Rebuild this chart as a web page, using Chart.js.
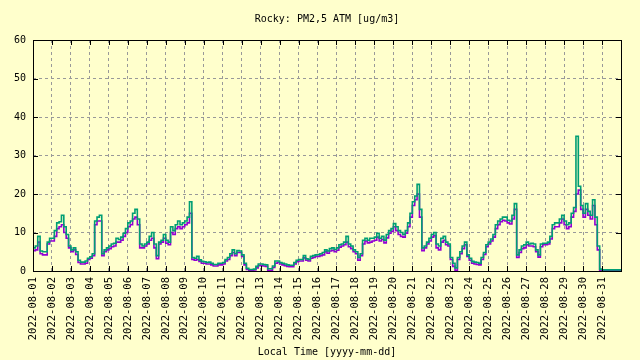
<!DOCTYPE html>
<html>
<head>
<meta charset="utf-8">
<title>Rocky: PM2,5 ATM</title>
<script src="https://cdn.jsdelivr.net/npm/chart.js@4/dist/chart.umd.min.js"></script>
<style>
  html, body { margin: 0; padding: 0; background: #ffffcc; }
  #wrap { width: 640px; height: 360px; }
</style>
</head>
<body>
<div id="wrap"><canvas id="grafico" width="640" height="360"></canvas></div>
<script>
// Dados: uma amostra a cada 3 horas, a partir de 2022-08-01 00:00
const titulo = "Rocky: PM2,5 ATM [ug/m3]";
const tituloEixoX = "Local Time [yyyy-mm-dd]";
const horasPorAmostra = 3;

const dias = [
  "2022-08-01", "2022-08-02", "2022-08-03", "2022-08-04", "2022-08-05", "2022-08-06",
  "2022-08-07", "2022-08-08", "2022-08-09", "2022-08-10", "2022-08-11", "2022-08-12",
  "2022-08-13", "2022-08-14", "2022-08-15", "2022-08-16", "2022-08-17", "2022-08-18",
  "2022-08-19", "2022-08-20", "2022-08-21", "2022-08-22", "2022-08-23", "2022-08-24",
  "2022-08-25", "2022-08-26", "2022-08-27", "2022-08-28", "2022-08-29", "2022-08-30",
  "2022-08-31"
];

const yTicks = [0, 10, 20, 30, 40, 50, 60];

// canal B (verde)
const canalB = [
  6, 6, 6.5, 9, 5.2, 5, 5, 7.5,
  8.5, 8.5, 10.5, 12.5, 12.8, 14.5, 11.5, 9.5,
  6.5, 5.5, 6, 5, 2.8, 2.3, 2.3, 2.6,
  3.3, 3.7, 4.5, 13, 14, 14.5, 4.5, 5.5,
  6, 6.5, 7, 7.2, 8.5, 8.2, 8.8, 9.8,
  11, 12.5, 13, 15, 16, 13.5, 7, 6.5,
  7, 7.5, 9, 10, 7, 4, 7.5, 8,
  9.5, 8, 7.5, 11.5, 10.5, 12, 13, 12,
  12.5, 13, 14, 18, 3.5, 3.3, 3.8, 2.9,
  2.5, 2.4, 2.2, 2.3, 2, 1.7, 1.7, 2,
  2, 2.2, 3, 3.5, 4.5, 5.5, 4.5, 5.3,
  5.2, 4.2, 2, 0.7, 0.4, 0.4, 0.5, 1.2,
  1.8, 1.8, 1.7, 1.6, 0.6, 0.6, 1.3, 2.6,
  2.6, 2.2, 2, 1.8, 1.6, 1.5, 1.5, 2.2,
  2.8, 3, 3, 4, 3.2, 3, 3.8, 4,
  4.2, 4.3, 4.5, 4.8, 5.5, 5.2, 5.8, 6,
  5.6, 6, 6.8, 7, 7.5, 9, 7, 6.5,
  5.5, 5, 3.5, 4.5, 8, 8.5, 8, 8.5,
  8.5, 8.8, 9.8, 8.5, 9, 8, 9.5, 10.5,
  11, 12.3, 11.5, 10.5, 10, 9.5, 10.5, 12.5,
  15, 18, 19.5, 22.5, 16, 6, 6.5, 7.5,
  8.5, 9.5, 10, 7, 6.5, 8.5, 9, 7.5,
  7, 3.5, 2, 0.8, 3.5, 5, 6.5, 7.5,
  4.2, 3.3, 2.5, 2.3, 2.2, 2, 3.5, 4.8,
  6.8, 7.5, 8.3, 9.5, 12, 13, 13.5, 14,
  14, 13.2, 13, 14.5, 17.5, 4.2, 5.5, 6.5,
  6.8, 7.5, 7, 7.2, 7, 5.5, 4.2, 7,
  7.2, 7.2, 7.5, 9, 12, 12.5, 12.5, 13.5,
  14.5, 13, 12, 12.5, 15, 16.5, 35, 22,
  17, 15, 17.5, 15.5, 14.5, 18.5, 14, 6.5,
  0.5, 0.3, 0.3, 0.3, 0.3, 0.3, 0.3, 0.3,
  0.3
];

// canal A (violeta)
const canalA = [
  5.3, 5.3, 5.5, 7.5, 4.5, 4.2, 4.2, 7,
  7.8, 7.8, 9, 11, 11.5, 12, 10, 8.5,
  6, 5, 5.5, 4.3, 2.2, 1.8, 1.8, 2,
  3, 3.3, 4, 12, 13, 13, 4, 5,
  5.5, 5.8, 6.3, 6.5, 7.5, 7.5, 8, 9,
  10, 11.5, 12, 13.5, 14, 12, 6, 6,
  6.5, 7, 8, 8.5, 6, 3.2, 7, 7.5,
  8.5, 7.2, 6.8, 10, 9.5, 11, 11.5, 11,
  11.5, 12, 12.5, 15, 3, 2.8, 3, 2.5,
  2, 2, 1.8, 1.8, 1.6, 1.3, 1.3, 1.6,
  1.6, 1.8, 2.6, 3, 4, 4.8, 4, 4.8,
  4.8, 3.8, 1.6, 0.4, 0.2, 0.2, 0.3, 0.8,
  1.4, 1.4, 1.3, 1.2, 0.2, 0.2, 0.9, 2,
  2.2, 1.8, 1.6, 1.4, 1.2, 1.1, 1.1, 1.8,
  2.4, 2.6, 2.6, 3.4, 2.8, 2.6, 3.3, 3.5,
  3.8, 3.8, 4, 4.2, 5, 4.6, 5.2, 5.4,
  5, 5.4, 6.2, 6.5, 6.8, 7.5, 6.3, 5.8,
  5, 4.5, 2.8, 4, 7, 7.8, 7.3, 7.5,
  7.8, 8, 8.8, 7.8, 8.2, 7.3, 8.6, 9.8,
  10.3, 11.5, 10.5, 9.5, 9, 8.8, 9.8, 11.5,
  14, 17, 18.5, 20, 14, 5.3, 6, 7,
  7.8, 8.8, 9.2, 6, 5.5, 7.5, 8, 6.8,
  6.5, 3, 1.2, 0.2, 3, 4.5, 5.8, 6.8,
  3.8, 2.8, 2, 1.8, 1.7, 1.6, 3, 4.3,
  6.3, 7, 7.8, 8.8, 11, 12, 12.8, 13.2,
  13, 12.5, 12.2, 13.5, 16, 3.5, 4.8, 5.8,
  6, 6.8, 6.5, 6.5, 6.3, 5, 3.6, 6.3,
  6.8, 6.8, 7, 8.3, 11, 11.5, 11.5, 12.5,
  13.5, 12, 11, 11.5, 14, 15.5, 20, 21,
  16, 14, 16, 14.5, 13.5, 17, 12, 5.5,
  0.2, 0.1, 0.1, 0.1, 0.1, 0.1, 0.1, 0.1,
  0.1
];

// transforma o índice da amostra em dias desde 2022-08-01
const pontos = serie => serie.map((v, i) => ({ x: i * horasPorAmostra / 24, y: v }));

const fonte = { family: "'DejaVu Sans Mono', monospace", size: 10 };

// fundo amarelo, título e moldura com marcas para dentro (estilo gnuplot)
const molduraPlugin = {
  id: "moldura",
  beforeDraw(chart) {
    const { ctx, width, height } = chart;
    ctx.save();
    ctx.fillStyle = "#ffffcc";
    ctx.fillRect(0, 0, width, height);
    ctx.restore();
  },
  afterDraw(chart) {
    const { ctx, chartArea: a, scales } = chart;
    ctx.save();
    ctx.fillStyle = "#000";
    ctx.font = "10px 'DejaVu Sans Mono', monospace";
    ctx.textAlign = "center";
    ctx.textBaseline = "middle";
    ctx.fillText(titulo, (a.left + a.right) / 2, 19);

    ctx.strokeStyle = "#000";
    ctx.lineWidth = 1;
    ctx.beginPath();
    scales.x.ticks.forEach(t => {
      const px = Math.round(scales.x.getPixelForValue(t.value)) + 0.5;
      ctx.moveTo(px, a.bottom); ctx.lineTo(px, a.bottom - 5);
      ctx.moveTo(px, a.top); ctx.lineTo(px, a.top + 5);
    });
    scales.y.ticks.forEach(t => {
      const py = Math.round(scales.y.getPixelForValue(t.value)) + 0.5;
      ctx.moveTo(a.left, py); ctx.lineTo(a.left + 5, py);
      ctx.moveTo(a.right, py); ctx.lineTo(a.right - 5, py);
    });
    ctx.stroke();
    ctx.strokeRect(Math.round(a.left) + 0.5, Math.round(a.top) + 0.5,
      Math.round(a.right - a.left), Math.round(a.bottom - a.top));
    ctx.restore();
  }
};

const ctx = document.getElementById("grafico").getContext("2d");
new Chart(ctx, {
  type: "line",
  data: {
    datasets: [
      {
        label: "PM2,5 ATM B",
        data: pontos(canalB),
        borderColor: "#009e73",
        borderWidth: 1.6,
        pointRadius: 0,
        stepped: "after",
        fill: false
      },
      {
        label: "PM2,5 ATM A",
        data: pontos(canalA),
        borderColor: "#9400d3",
        borderWidth: 1.6,
        pointRadius: 0,
        stepped: "after",
        fill: false
      }
    ]
  },
  options: {
    responsive: false,
    animation: false,
    layout: { padding: { top: 40, right: 19, left: 0, bottom: 0 } },
    plugins: {
      legend: { display: false },
      tooltip: { enabled: false }
    },
    scales: {
      x: {
        type: "linear",
        min: 0,
        max: dias.length,
        afterFit: s => { s.height = 89; },
        grid: { color: "#999999", lineWidth: 1, drawTicks: false },
        border: { display: false, dash: [3, 3] },
        ticks: {
          stepSize: 1,
          autoSkip: false,
          maxRotation: 90,
          minRotation: 90,
          padding: 6,
          color: "#000",
          font: { family: fonte.family, size: 10.5 },
          callback: v => dias[v]
        },
        title: {
          display: true,
          text: tituloEixoX,
          color: "#000",
          font: fonte,
          padding: { top: 0, bottom: 2 }
        }
      },
      y: {
        min: yTicks[0],
        max: yTicks[yTicks.length - 1],
        afterFit: s => { s.width = 33; },
        afterBuildTicks: s => { s.ticks = yTicks.map(v => ({ value: v })); },
        grid: { color: "#999999", lineWidth: 1, drawTicks: false },
        border: { display: false, dash: [3, 3] },
        ticks: { padding: 7, color: "#000", font: fonte }
      }
    }
  },
  plugins: [molduraPlugin]
});
</script>
</body>
</html>
